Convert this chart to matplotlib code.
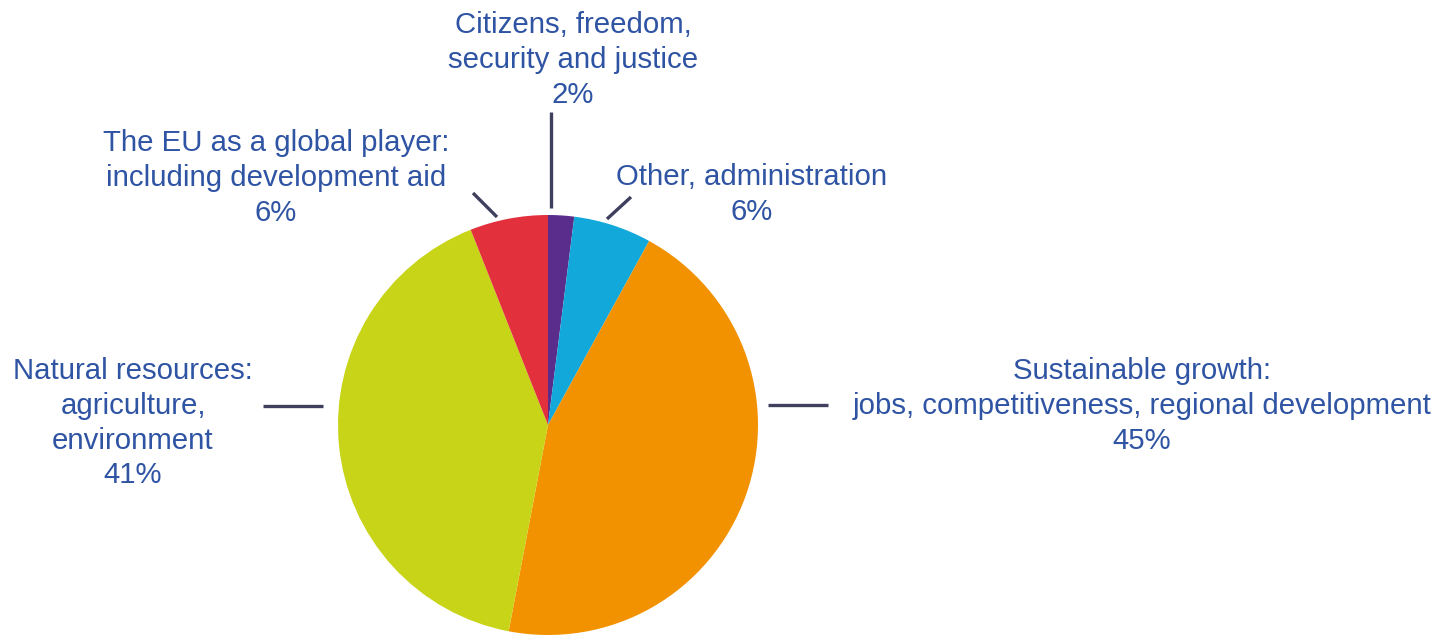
import matplotlib.pyplot as plt

# EU budget shares, clockwise from the top
labels = [
    "Citizens, freedom,\nsecurity and justice",
    "Other, administration",
    "Sustainable growth:\njobs, competitiveness, regional development",
    "Natural resources:\nagriculture,\nenvironment",
    "The EU as a global player:\nincluding development aid",
]
shares = [2, 6, 45, 41, 6]
colors = ["#5a2d8c", "#12a8da", "#f39200", "#c8d417", "#e2313d"]

W, H = 1451, 637
fig = plt.figure(figsize=(W / 100, H / 100), dpi=100)
ax = fig.add_axes([0, 0, 1, 1])

cx, cy, r = 548, H - 425, 210
ax.pie(shares, colors=colors, startangle=90, counterclock=False,
       center=(cx, cy), radius=r, frame=True,
       wedgeprops=dict(linewidth=0))
ax.set_xlim(0, W)
ax.set_ylim(0, H)
ax.set_aspect("equal")
ax.axis("off")

txt = "#2f54a3"
line_col = "#3f3f5e"
fs = 21.2
font = "Liberation Sans"

def label(x, y, s):
    ax.text(x, H - y, s, ha="center", va="top", color=txt, fontsize=fs,
            family=font, linespacing=1.31, multialignment="center")

label(573, 11, labels[0] + "\n%d%%" % shares[0])
label(752, 163, labels[1] + "\n%d%%" % shares[1])
label(1142, 357, labels[2] + "\n%d%%" % shares[2])
label(133, 357, labels[3] + "\n%d%%" % shares[3])
label(276, 129, labels[4] + "\n%d%%" % shares[4])

# leader lines
leaders = [
    ((551, 551), (112, 208)),
    ((607, 631), (219, 197)),
    ((768, 828), (405, 405)),
    ((263, 323), (406, 406)),
    ((473, 497), (193, 217)),
]
for xs, ys in leaders:
    ax.plot(xs, [H - y for y in ys], color=line_col, linewidth=2.4,
            solid_capstyle="butt")

fig.savefig("out.png", dpi=100)
